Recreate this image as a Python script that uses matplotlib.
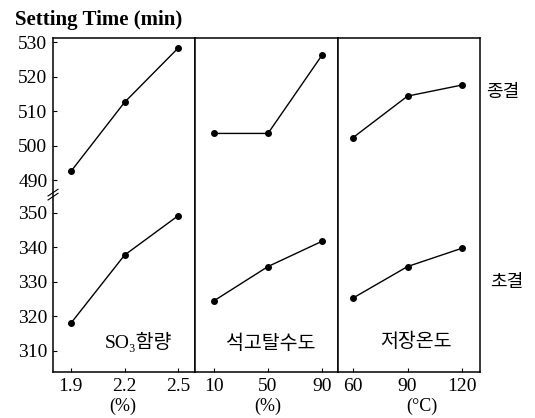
import numpy as np
import matplotlib
matplotlib.use("Agg")
import matplotlib.pyplot as plt

# panel x values
so3 = [1.9, 2.2, 2.5]
gypsum = [10, 50, 90]
temp = [60, 90, 120]

# setting time (min): final (종결) and initial (초결)
so3_final = [492.6, 512.6, 528.3]
so3_init = [318.0, 337.7, 349.1]
gyp_final = [503.6, 503.6, 526.2]
gyp_init = [324.5, 334.4, 341.7]
temp_final = [502.4, 514.4, 517.6]
temp_init = [325.3, 334.4, 339.7]

yticks = [310, 320, 330, 340, 350, 490, 500, 510, 520, 530]
panel_names = ["SO₃함량", "석고탈수도", "저장온도"]
units = ["(%)", "(%)", "(°C)"]

SERIF = ["Liberation Serif", "DejaVu Serif"]
KR = ["Liberation Serif", "Noto Sans CJK KR", "DejaVu Serif"]
plt.rcParams["font.family"] = SERIF

# broken y axis: squeeze 350..490 into a short gap
LO, HI, GAP = 350.0, 490.0, 9.3


def fwd(v):
    v = np.asarray(v, dtype=float)
    return np.where(v <= LO, v,
                    np.where(v >= HI, v - (HI - LO) + GAP,
                             LO + (v - LO) * GAP / (HI - LO)))


def inv(y):
    y = np.asarray(y, dtype=float)
    return np.where(y <= LO, y,
                    np.where(y >= LO + GAP, y + (HI - LO) - GAP,
                             LO + (y - LO) * (HI - LO) / GAP))


fig = plt.figure(figsize=(5.35, 4.18), dpi=100)
B, T = 1 - 372 / 418, 1 - 38 / 418
edges = [53, 195, 338, 480]
xs = [so3, gypsum, temp]
finals = [so3_final, gyp_final, temp_final]
inits = [so3_init, gyp_init, temp_init]
xlims = [(1.8, 2.594), (-4.1, 101.9), (51.7, 129.9)]
unit_x = [0.49, 0.51, 0.59]
name_pos = [(0.6, 0.09), (0.53, 0.085), (0.55, 0.09)]

axes = []
for i in range(3):
    x0 = edges[i] / 535
    w = (edges[i + 1] - edges[i]) / 535
    ax = fig.add_axes([x0, B, w, T - B])
    ax.set_yscale("function", functions=(fwd, inv))
    ax.set_ylim(303.9, 531.2)
    ax.set_xlim(*xlims[i])
    ax.plot(xs[i], finals[i], "-o", color="black", lw=1.0, ms=4)
    ax.plot(xs[i], inits[i], "-o", color="black", lw=1.0, ms=4)
    ax.set_xticks(xs[i])
    ax.set_xticklabels([f"{v:g}" for v in xs[i]], fontsize=14)
    ax.set_xlabel(units[i], fontsize=13)
    ax.xaxis.set_label_coords(unit_x[i], -0.078)
    ax.tick_params(axis="x", direction="in", length=3, pad=4)
    ax.set_yticks(yticks)
    ax.yaxis.set_minor_locator(matplotlib.ticker.NullLocator())
    if i == 0:
        ax.set_yticklabels([str(v) for v in yticks], fontsize=14)
        ax.tick_params(axis="y", direction="in", length=3, pad=4)
        # break mark on the left spine
        for dy in (0.0, 0.012):
            ax.plot([-0.035, 0.035], [0.515 + dy, 0.535 + dy], color="black",
                    lw=0.8, transform=ax.transAxes, clip_on=False)
    else:
        ax.tick_params(axis="y", left=False, labelleft=False)
    for s in ax.spines.values():
        s.set_linewidth(1.1)
    ax.text(*name_pos[i], panel_names[i], transform=ax.transAxes,
            ha="center", va="center", fontsize=14, family=KR)
    axes.append(ax)

fig.text(15 / 535, 1 - 20 / 418, "Setting Time (min)", fontsize=15,
         ha="left", va="center", fontweight="bold")
fig.text(503 / 535, 1 - 93 / 418, "종결", fontsize=13, ha="center",
         va="center", family=KR)
fig.text(507 / 535, 1 - 283 / 418, "초결", fontsize=13, ha="center",
         va="center", family=KR)

fig.savefig("out.png", dpi=100)
